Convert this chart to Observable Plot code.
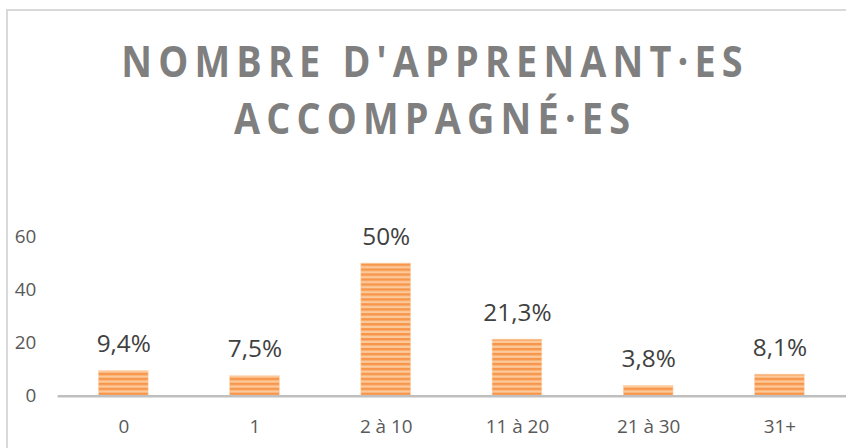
<!DOCTYPE html>
<html>
<head>
<meta charset="utf-8">
<script src="https://cdn.jsdelivr.net/npm/d3@7"></script>
<script src="https://cdn.jsdelivr.net/npm/@observablehq/plot@0.6"></script>
<style>
  html, body { margin: 0; padding: 0; background: #fff; }
  #wrap { position: relative; width: 846px; height: 448px; overflow: hidden; font-family: "Open Sans", sans-serif; }
  #frame { position: absolute; left: 6px; top: 9px; width: 900px; height: 500px; border: 2px solid #d9d9d9; box-sizing: border-box; }
  #title { position: absolute; left: 0; top: 32px; width: 857px; padding-left: 7px; text-align: center; font-weight: 700; font-size: 43px; line-height: 57px; letter-spacing: 7px; color: #7f7f7f; transform: scaleX(0.88); white-space: nowrap; }
  #chart { position: absolute; left: 0; top: 0; }
</style>
</head>
<body>
<div id="wrap">
  <div id="frame"></div>
  <div id="title">NOMBRE D'APPRENANT·ES<br>ACCOMPAGNÉ·ES</div>
  <div id="chart"></div>
</div>
<script>
const categories = ["0", "1", "2 à 10", "11 à 20", "21 à 30", "31+"];
const values = [9.4, 7.5, 50, 21.3, 3.8, 8.1];
const labels = ["9,4%", "7,5%", "50%", "21,3%", "3,8%", "8,1%"];
const yTicks = [0, 20, 40, 60];

const data = categories.map((c, i) => ({cat: c, value: values[i], label: labels[i]}));

const plot = Plot.plot({
  width: 851,
  height: 448,
  marginTop: 238,
  marginBottom: 50,
  marginLeft: 58,
  marginRight: 0,
  style: {fontFamily: "Open Sans, sans-serif", background: "transparent", overflow: "visible"},
  x: {domain: categories, paddingInner: 0.62, paddingOuter: 0.31, label: null},
  y: {domain: [0, 60], label: null},
  marks: [
    Plot.axisY({ticks: yTicks, tickSize: 0, tickPadding: 22, fontSize: 19, fill: "#595959", label: null}),
    Plot.axisX({tickSize: 0, tickPadding: 24, fontSize: 19, fill: "#595959", label: null}),
    Plot.barY(data, {x: "cat", y: "value", fill: "url(#stripes)", stroke: "#fbd3ae", strokeWidth: 0.6}),
    Plot.ruleY([0], {stroke: "#bfbfbf", strokeWidth: 2.5}),
    Plot.text(data, {x: "cat", y: "value", text: "label", dy: -27, fontSize: 24.5, fill: "#404040"})
  ]
});

const svg = d3.select(plot);
const defs = svg.insert("defs", ":first-child");
const pat = defs.append("pattern")
  .attr("id", "stripes")
  .attr("patternUnits", "userSpaceOnUse")
  .attr("width", 10).attr("height", 5);
pat.append("rect").attr("width", 10).attr("height", 5).attr("fill", "#fcc99b");
pat.append("rect").attr("y", 0).attr("width", 10).attr("height", 2.5).attr("fill", "#f7964a");

document.getElementById("chart").appendChild(plot);
</script>
</body>
</html>
